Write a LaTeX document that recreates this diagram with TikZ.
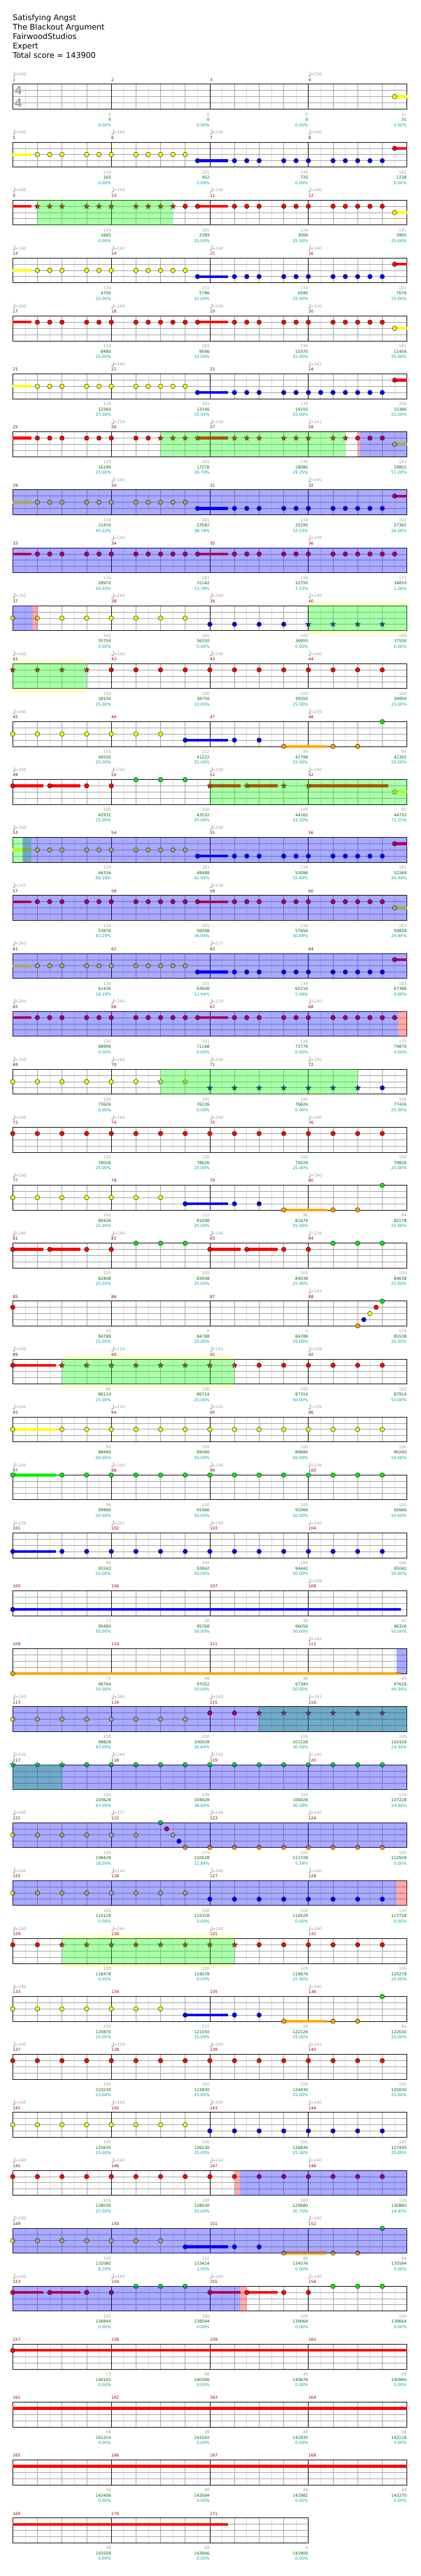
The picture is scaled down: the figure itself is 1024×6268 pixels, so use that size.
\documentclass[tikz,border=0pt]{standalone}
\usepackage{fontspec}
\setmainfont{DejaVu Sans}
\newfontfamily\sigfont{Liberation Sans}
\usetikzlibrary{shapes.geometric}
\definecolor{cG}{RGB}{0,240,0}
\definecolor{cR}{RGB}{255,0,0}
\definecolor{cY}{RGB}{255,255,0}
\definecolor{cB}{RGB}{0,0,255}
\definecolor{cO}{RGB}{255,165,0}
\definecolor{ovG}{RGB}{0,255,0}
\definecolor{paley}{RGB}{255,255,208}
\definecolor{gridL}{RGB}{220,220,220}
\definecolor{gridD}{RGB}{160,160,160}
\definecolor{mred}{RGB}{139,0,0}
\definecolor{numgray}{RGB}{160,160,160}
\definecolor{numgreen}{RGB}{0,100,0}
\definecolor{numteal}{RGB}{0,160,160}
\tikzset{
  rs/.style={yshift={-141*(#1-1)}},
  note/.style={circle,draw=black,line width=0.7pt,minimum size=11pt,inner sep=0pt},
  starnote/.style={star,star points=5,star point ratio=2.3,draw=black,line width=0.5pt,minimum size=14pt,inner sep=0pt},
  lab/.style={inner sep=0pt,font=\fontsize{9.8}{12}\selectfont,text height=7.2pt,text depth=0pt},
  mnum/.style={lab,anchor=west,text=mred},
  ngray/.style={lab,anchor=east,text=numgray},
  ngreen/.style={lab,anchor=east,text=numgreen},
  nteal/.style={lab,anchor=east,text=numteal},
  tnum/.style={lab,anchor=west,text=numgray},
  sig/.style={inner sep=0pt,font=\sigfont\bfseries\fontsize{30}{30}\selectfont,text=gridD},
  head/.style={anchor=base west,inner sep=0pt,font=\fontsize{19}{22}\selectfont},
  gl/.style={draw=gridL,line width=1pt},
  gd/.style={draw=gridD,line width=1pt}
}
\newcommand\lG{205}\newcommand\lR{220}\newcommand\lY{235}\newcommand\lB{250}\newcommand\lO{265}
\newcommand\grid[1]{%
  \pgfmathtruncatemacro\gn{8*#1}%
  \foreach \i in {1,3,...,\gn} \draw[gl] ({31+30*\i},205) -- ({31+30*\i},265.5);
  \foreach \i in {2,4,...,\gn} \draw[gd] ({31+30*\i},205) -- ({31+30*\i},265.5);
  \foreach \yy in {220,235,250} \draw[gd] (31,\yy) -- ({31+240*#1},\yy);
  \foreach \i in {1,...,#1} \draw[black,line width=1pt] ({31+240*\i},205) -- ({31+240*\i},265.5);
  \draw[black,line width=1.5pt] (31,205) rectangle ({31+240*#1},265.5);}
\newcommand\nt[3]{\node[note,fill=#3] at ({31+30*(#1)},#2) {};}
\newcommand\nts[3]{\foreach \k in {#1}{\nt{\k}{#2}{#3}}}
\newcommand\sts[3]{\foreach \k in {#1}{\node[starnote,fill=#3] at ({31+30*(\k)},#2) {};}}
\newcommand\su[4]{\fill[#4] ({31+30*(#1)},{#3-3.3}) rectangle ({31+30*(#2)},{#3+3.3});}
\newcommand\ov[3]{\fill[#3,fill opacity=0.333] ({31+30*(#1)},205) rectangle ({31+30*(#2)},265.5);}
\newcommand\py[2]{\fill[paley] ({31+30*(#1)},195) rectangle ({31+30*(#2)},205);
  \fill[paley] ({31+30*(#1)},265.5) rectangle ({31+30*(#2)},276);}
\newcommand\ms[5]{%
  \node[mnum] at ({31+240*(#1)},194) {#2};
  \node[ngray] at ({30.5+240*(#1+1)},278) {#3};
  \node[ngreen] at ({30.5+240*(#1+1)},291) {#4};
  \node[nteal] at ({30.5+240*(#1+1)},304) {#5\%};}
\newcommand\tp[2]{%
  \fill[numgray] ({31+240*(#1)+2.4},185) ellipse [x radius=2.4,y radius=1.8];
  \draw[numgray,line width=0.9pt] ({31+240*(#1)+4.5},185) -- ({31+240*(#1)+4.5},174.5);
  \node[tnum] at ({31+240*(#1)+5.8},181) {=#2};}
\newcommand\tps[4]{\tp{0}{#1}\tp{1}{#2}\tp{2}{#3}\tp{3}{#4}}
\newcommand\patA{%
  \su{0}{1.5}{\lY}{cY}
  \nts{2,3,4,6,7,8,10,11,12,13,14}{\lY}{cY}
  \su{15}{17.5}{\lB}{cB}\nt{15}{\lB}{cB}
  \nts{18,19,20,22,23,24,26,27,28,29,30}{\lB}{cB}
  \su{31}{32}{\lR}{cR}\nt{31}{\lR}{cR}}
\newcommand\patB{%
  \su{0}{1.5}{\lR}{cR}
  \nts{2,3,4,6,7,8,10,11,12,13,14}{\lR}{cR}
  \su{15}{17.5}{\lR}{cR}\nt{15}{\lR}{cR}
  \nts{18,19,20,22,23,24,26,27,28,29,30}{\lR}{cR}
  \su{31}{32}{\lY}{cY}\nt{31}{\lY}{cY}}
\newcommand\patR{%
  \su{0}{1.5}{\lR}{cR}
  \nts{2,3,4,6,7,8,10,11,12,13,14}{\lR}{cR}
  \su{15}{17.5}{\lR}{cR}\nt{15}{\lR}{cR}
  \nts{18,19,20,22,23,24,26,27,28,29,30,31}{\lR}{cR}}
\newcommand\patC{%
  \nts{0,2,4,6,8,10,12}{\lY}{cY}
  \su{14}{17.5}{\lB}{cB}\nt{14}{\lB}{cB}
  \nts{18,20}{\lB}{cB}
  \su{22}{25.5}{\lO}{cO}\nt{22}{\lO}{cO}
  \nts{26,28}{\lO}{cO}
  \nt{30}{\lG}{cG}}
\newcommand\patD{%
  \su{0}{2.5}{\lR}{cR}\nt{0}{\lR}{cR}
  \su{3}{5.5}{\lR}{cR}\nt{3}{\lR}{cR}
  \nts{6,8}{\lR}{cR}
  \nts{10,12,14}{\lG}{cG}
  \su{16}{18.5}{\lR}{cR}\nt{16}{\lR}{cR}
  \su{19}{21.5}{\lR}{cR}\nt{19}{\lR}{cR}
  \nts{22,24}{\lR}{cR}
  \nts{26,28,30}{\lG}{cG}}
\begin{document}
\begin{tikzpicture}[x=1pt,y=-1pt]
\useasboundingbox (0,0) rectangle (1024,6268);
\fill[white] (0,0) rectangle (1024,6268);
\node[head] at (31,49.3) {Satisfying Angst};
\node[head] at (31,72.3) {The Blackout Argument};
\node[head] at (31,95.3) {FairwoodStudios};
\node[head] at (31,118.3) {Expert};
\node[head] at (31,141.3) {Total score = 143900};
% Row 1
\begin{scope}[rs=1]
\grid{4}
\node[sig] at (44.5,220.5) {4}; \node[sig] at (44.5,250.5) {4};
\su{31}{32}{\lY}{cY}\nt{31}{\lY}{cY}
\tp{0}{240}\tp{3}{236}
\ms{0}{1}{0}{0}{0.00}\ms{1}{2}{0}{0}{0.00}\ms{2}{3}{0}{0}{0.00}\ms{3}{4}{31}{31}{0.00}
\end{scope}
% Row 2
\begin{scope}[rs=2]
\grid{4}\patA
\tps{240}{240}{240}{240}
\ms{0}{5}{134}{165}{0.00}\ms{1}{6}{181}{452}{0.00}\ms{2}{7}{134}{720}{0.00}\ms{3}{8}{181}{1238}{0.00}
\end{scope}
% Row 3
\begin{scope}[rs=3]
\grid{4}
\su{0}{1.5}{\lR}{cR}
\sts{2,3,4,6,7,8,10,11,12,13}{\lR}{cR}
\nt{14}{\lR}{cR}
\su{15}{17.5}{\lR}{cR}\nt{15}{\lR}{cR}
\nts{18,19,20,22,23,24,26,27,28,29,30}{\lR}{cR}
\su{31}{32}{\lY}{cY}\nt{31}{\lY}{cY}
\ov{2}{13}{ovG}
\tps{240}{240}{240}{240}
\ms{0}{9}{134}{1665}{0.00}\ms{1}{10}{181}{2389}{25.00}\ms{2}{11}{134}{3000}{25.00}\ms{3}{12}{181}{3905}{25.00}
\end{scope}
% Row 4
\begin{scope}[rs=4]
\grid{4}\patA
\tps{240}{240}{240}{240}
\ms{0}{13}{134}{4700}{25.00}\ms{1}{14}{181}{5786}{25.00}\ms{2}{15}{134}{6590}{25.00}\ms{3}{16}{181}{7676}{25.00}
\end{scope}
% Row 5
\begin{scope}[rs=5]
\grid{4}\patB
\tps{240}{240}{240}{240}
\ms{0}{17}{134}{8480}{25.00}\ms{1}{18}{181}{9566}{25.00}\ms{2}{19}{134}{10370}{25.00}\ms{3}{20}{181}{11456}{25.00}
\end{scope}
% Row 6
\begin{scope}[rs=6]
\grid{4}
\su{0}{1.5}{\lY}{cY}
\nts{2,3,4,6,7,8,10,11,12,13,14}{\lY}{cY}
\su{15}{17.5}{\lB}{cB}\nt{15}{\lB}{cB}
\nts{18,19,20,22,23,24,25,26,27,28,29,30}{\lB}{cB}
\su{31}{32}{\lR}{cR}\nt{31}{\lR}{cR}
\tp{1}{240}\tp{3}{241}
\ms{0}{21}{134}{12260}{25.00}\ms{1}{22}{181}{13346}{25.00}\ms{2}{23}{134}{14150}{25.00}\ms{3}{24}{206}{15386}{25.00}
\end{scope}
% Row 7
\begin{scope}[rs=7]
\grid{4}
\su{0}{1.5}{\lR}{cR}
\nts{2,3,4,6,7,8,10,11}{\lR}{cR}
\su{15}{17.5}{\lR}{cR}
\sts{12,13,14,15,18,19,20,22,23,24,26,27}{\lR}{cR}
\nts{28,29,30}{\lR}{cR}
\su{31}{32}{\lY}{cY}\nt{31}{\lY}{cY}
\ov{12}{27}{ovG}
\ov{28.05}{28.18}{cR}
\ov{28.18}{32}{cB}
\tp{1}{239}\tp{2}{239}\tp{3}{241}
\ms{0}{25}{134}{16190}{25.00}\ms{1}{26}{181}{17276}{26.70}\ms{2}{27}{134}{18080}{29.25}\ms{3}{28}{181}{19802}{51.28}
\end{scope}
% Row 8
\begin{scope}[rs=8]
\grid{4}\patA
\ov{0}{32}{cB}
\tp{1}{240}\tp{3}{240}
\ms{0}{29}{134}{21410}{45.03}\ms{1}{30}{181}{23582}{38.78}\ms{2}{31}{134}{25190}{32.53}\ms{3}{32}{181}{27362}{26.28}
\end{scope}
% Row 9
\begin{scope}[rs=9]
\grid{4}\patR
\ov{0}{32}{cB}
\tp{1}{240}\tp{3}{239}
\ms{0}{33}{134}{28970}{20.03}\ms{1}{34}{181}{31142}{13.78}\ms{2}{35}{134}{32750}{7.53}\ms{3}{36}{175}{34850}{1.28}
\end{scope}
% Row 10
\begin{scope}[rs=10]
\py{24}{32}
\grid{4}
\nts{0,2,4,6,8,10,12,14}{\lY}{cY}
\nts{16,18,20,22}{\lB}{cB}
\sts{24,26,28,30}{\lB}{cB}
\ov{0}{1.6}{cB}
\ov{1.6}{2.02}{cR}
\ov{24}{32}{ovG}
\tps{242}{240}{240}{240}
\ms{0}{37}{100}{35750}{0.00}\ms{1}{38}{100}{36350}{0.00}\ms{2}{39}{100}{36950}{0.00}\ms{3}{40}{100}{37550}{0.00}
\end{scope}
% Row 11
\begin{scope}[rs=11]
\py{0}{6}
\grid{4}
\sts{0,2,4,6}{\lR}{cR}
\nts{8,10,12,14,16,18,20,22,24,26,28,30}{\lR}{cR}
\ov{0}{6}{ovG}
\tps{240}{240}{240}{240}
\ms{0}{41}{100}{38150}{25.00}\ms{1}{42}{100}{38750}{25.00}\ms{2}{43}{100}{39350}{25.00}\ms{3}{44}{100}{39950}{25.00}
\end{scope}
% Row 12
\begin{scope}[rs=12]
\grid{4}\patC
\tp{0}{240}\tp{3}{239}
\ms{0}{45}{100}{40550}{25.00}\ms{1}{46}{112}{41222}{25.00}\ms{2}{47}{96}{41798}{25.00}\ms{3}{48}{84}{42302}{25.00}
\end{scope}
% Row 13
\begin{scope}[rs=13]
\grid{4}
\su{0}{2.5}{\lR}{cR}\nt{0}{\lR}{cR}
\su{3}{5.5}{\lR}{cR}\nt{3}{\lR}{cR}
\nts{6,8}{\lR}{cR}
\nts{10,12,14}{\lG}{cG}
\su{16}{18.5}{\lR}{cR}\su{19}{21.5}{\lR}{cR}\su{24}{30.5}{\lR}{cR}
\sts{16,19,22,24}{\lR}{cR}
\su{31}{32}{\lY}{cY}\sts{31}{\lY}{cY}
\ov{16}{32}{ovG}
\tps{240}{240}{240}{240}
\ms{0}{49}{105}{42932}{25.00}\ms{1}{50}{100}{43532}{25.00}\ms{2}{51}{105}{44162}{33.50}\ms{3}{52}{95}{44732}{71.25}
\end{scope}
% Row 14
\begin{scope}[rs=14]
\grid{4}\patA
\ov{0}{1.5}{ovG}
\ov{0.8}{32}{cB}
\tp{0}{240}\tp{2}{240}
\ms{0}{53}{134}{46316}{68.19}\ms{1}{54}{181}{48488}{61.94}\ms{2}{55}{134}{50096}{55.69}\ms{3}{56}{181}{52268}{49.44}
\end{scope}
% Row 15
\begin{scope}[rs=15]
\grid{4}\patB
\ov{0}{32}{cB}
\tp{0}{241}\tp{2}{238}
\ms{0}{57}{134}{53876}{43.19}\ms{1}{58}{181}{56048}{36.94}\ms{2}{59}{134}{57656}{30.69}\ms{3}{60}{181}{59828}{24.44}
\end{scope}
% Row 16
\begin{scope}[rs=16]
\grid{4}\patA
\ov{0}{32}{cB}
\tp{0}{243}\tp{2}{237}
\ms{0}{61}{134}{61436}{18.19}\ms{1}{62}{181}{63608}{11.94}\ms{2}{63}{134}{65216}{5.69}\ms{3}{64}{181}{67388}{0.00}
\end{scope}
% Row 17
\begin{scope}[rs=17]
\grid{4}\patR
\ov{0}{31.33}{cB}
\ov{31.33}{32}{cR}
\tps{244}{240}{239}{240}
\ms{0}{65}{134}{68996}{0.00}\ms{1}{66}{181}{71168}{0.00}\ms{2}{67}{134}{72776}{0.00}\ms{3}{68}{175}{74876}{0.00}
\end{scope}
% Row 18
\begin{scope}[rs=18]
\grid{4}
\nts{0,2,4,6,8,10}{\lY}{cY}
\sts{12,14}{\lY}{cY}
\sts{16,18,20,22,24,26,28}{\lB}{cB}
\nt{30}{\lB}{cB}
\ov{12}{28}{ovG}
\tps{240}{240}{240}{240}
\ms{0}{69}{100}{75626}{0.00}\ms{1}{70}{100}{76226}{0.00}\ms{2}{71}{100}{76826}{0.00}\ms{3}{72}{100}{77426}{25.00}
\end{scope}
% Row 19
\begin{scope}[rs=19]
\grid{4}
\nts{0,2,...,30}{\lR}{cR}
\tps{240}{240}{240}{240}
\ms{0}{73}{100}{78026}{25.00}\ms{1}{74}{100}{78626}{25.00}\ms{2}{75}{100}{79226}{25.00}\ms{3}{76}{100}{79826}{25.00}
\end{scope}
% Row 20
\begin{scope}[rs=20]
\grid{4}\patC
\tp{0}{240}\tp{3}{240}
\ms{0}{77}{100}{80426}{25.00}\ms{1}{78}{112}{81098}{25.00}\ms{2}{79}{96}{81674}{25.00}\ms{3}{80}{84}{82178}{25.00}
\end{scope}
% Row 21
\begin{scope}[rs=21]
\grid{4}\patD
\tps{240}{240}{240}{239}
\ms{0}{81}{105}{82808}{25.00}\ms{1}{82}{100}{83408}{25.00}\ms{2}{83}{105}{84038}{25.00}\ms{3}{84}{100}{84638}{25.00}
\end{scope}
% Row 22
\begin{scope}[rs=22]
\grid{4}
\nt{0}{\lR}{cR}
\nt{28}{\lO}{cO}\nt{28.5}{\lB}{cB}\nt{29}{\lY}{cY}\nt{29.5}{\lR}{cR}\nt{30}{\lG}{cG}
\tp{3}{243}
\ms{0}{85}{25}{84788}{25.00}\ms{1}{86}{0}{84788}{25.00}\ms{2}{87}{0}{84788}{25.00}\ms{3}{88}{125}{85538}{25.00}
\end{scope}
% Row 23
\begin{scope}[rs=23]
\py{4}{18}
\grid{4}
\su{0}{3.5}{\lR}{cR}\nt{0}{\lR}{cR}
\sts{4,6,8,10,12,14,16,18}{\lR}{cR}
\nts{20,22,24,26,28,30}{\lR}{cR}
\ov{4}{18}{ovG}
\tps{240}{239}{241}{239}
\ms{0}{89}{96}{86114}{25.00}\ms{1}{90}{100}{86714}{25.00}\ms{2}{91}{100}{87314}{50.00}\ms{3}{92}{100}{87914}{50.00}
\end{scope}
% Row 24
\begin{scope}[rs=24]
\grid{4}
\su{0}{3.5}{\lY}{cY}\nt{0}{\lY}{cY}
\nts{4,6,...,30}{\lY}{cY}
\tps{241}{239}{241}{239}
\ms{0}{93}{96}{88490}{50.00}\ms{1}{94}{100}{89090}{50.00}\ms{2}{95}{100}{89690}{50.00}\ms{3}{96}{100}{90290}{50.00}
\end{scope}
% Row 25
\begin{scope}[rs=25]
\grid{4}
\su{0}{3.5}{\lG}{cG}\nt{0}{\lG}{cG}
\nts{4,6,...,30}{\lG}{cG}
\tps{240}{240}{240}{239}
\ms{0}{97}{96}{90866}{50.00}\ms{1}{98}{100}{91466}{50.00}\ms{2}{99}{100}{92066}{50.00}\ms{3}{100}{100}{92666}{50.00}
\end{scope}
% Row 26
\begin{scope}[rs=26]
\grid{4}
\su{0}{3.5}{\lB}{cB}\nt{0}{\lB}{cB}
\nts{4,6,...,30}{\lB}{cB}
\tps{239}{241}{240}{240}
\ms{0}{101}{96}{93242}{50.00}\ms{1}{102}{100}{93842}{50.00}\ms{2}{103}{100}{94442}{50.00}\ms{3}{104}{100}{95042}{50.00}
\end{scope}
% Row 27
\begin{scope}[rs=27]
\grid{4}
\su{0}{31.5}{\lB}{cB}\nt{0}{\lB}{cB}
\tp{3}{239}
\ms{0}{105}{73}{95480}{50.00}\ms{1}{106}{48}{95768}{50.00}\ms{2}{107}{48}{96056}{50.00}\ms{3}{108}{45}{96326}{50.00}
\end{scope}
% Row 28
\begin{scope}[rs=28]
\grid{4}
\su{0}{31.5}{\lO}{cO}\nt{0}{\lO}{cO}
\ov{31.17}{32}{cB}
\tp{3}{242}
\ms{0}{109}{73}{96764}{50.00}\ms{1}{110}{48}{97052}{50.00}\ms{2}{111}{48}{97340}{50.00}\ms{3}{112}{45}{97628}{49.34}
\end{scope}
% Row 29
\begin{scope}[rs=29]
\grid{4}
\nts{0,2,4,6,8,10,12,14}{\lY}{cY}
\nts{16,18}{\lR}{cR}
\sts{20,22,24,26,28,30}{\lR}{cR}
\ov{20}{32}{ovG}
\ov{0}{32}{cB}
\tps{240}{240}{240}{241}
\ms{0}{113}{100}{98828}{43.09}\ms{1}{114}{100}{100028}{36.84}\ms{2}{115}{100}{101228}{30.59}\ms{3}{116}{100}{102428}{24.34}
\end{scope}
% Row 30
\begin{scope}[rs=30]
\grid{4}
\sts{0,2,4}{\lG}{cG}
\nts{6,8,...,30}{\lG}{cG}
\ov{0}{4}{ovG}
\ov{0}{32}{cB}
\tps{240}{240}{240}{240}
\ms{0}{117}{100}{103628}{43.09}\ms{1}{118}{100}{104828}{36.84}\ms{2}{119}{100}{106028}{30.59}\ms{3}{120}{100}{107228}{24.34}
\end{scope}
% Row 31
\begin{scope}[rs=31]
\grid{4}
\nts{0,2,4,6,8,10}{\lY}{cY}
\nt{12}{\lG}{cG}\nt{12.5}{\lR}{cR}\nt{13}{\lY}{cY}\nt{13.5}{\lB}{cB}\nt{14}{\lO}{cO}
\nts{16,18,...,30}{\lO}{cO}
\ov{0}{32}{cB}
\tps{240}{237}{244}{240}
\ms{0}{121}{100}{108428}{18.09}\ms{1}{122}{175}{110528}{11.84}\ms{2}{123}{100}{111728}{5.59}\ms{3}{124}{100}{112928}{0.00}
\end{scope}
% Row 32
\begin{scope}[rs=32]
\grid{4}
\nts{0,2,...,14}{\lY}{cY}
\nts{16,18,...,30}{\lB}{cB}
\ov{0}{31.17}{cB}
\ov{31.17}{32}{cR}
\tps{240}{240}{240}{240}
\ms{0}{125}{100}{114128}{0.00}\ms{1}{126}{100}{115328}{0.00}\ms{2}{127}{100}{116528}{0.00}\ms{3}{128}{100}{117728}{0.00}
\end{scope}
% Row 33
\begin{scope}[rs=33]
\py{4}{18}
\grid{4}
\nts{0,2}{\lR}{cR}
\sts{4,6,8,10,12,14,16,18}{\lR}{cR}
\nts{20,22,24,26,28,30}{\lR}{cR}
\ov{4}{18}{ovG}
\tps{240}{240}{240}{240}
\ms{0}{129}{100}{118478}{0.00}\ms{1}{130}{100}{119078}{0.00}\ms{2}{131}{100}{119678}{25.00}\ms{3}{132}{100}{120278}{25.00}
\end{scope}
% Row 34
\begin{scope}[rs=34]
\grid{4}\patC
\tp{0}{240}\tp{3}{240}
\ms{0}{133}{100}{120878}{25.00}\ms{1}{134}{112}{121550}{25.00}\ms{2}{135}{96}{122126}{25.00}\ms{3}{136}{84}{122630}{25.00}
\end{scope}
% Row 35
\begin{scope}[rs=35]
\grid{4}
\nts{0,2,...,30}{\lR}{cR}
\tps{240}{239}{240}{241}
\ms{0}{137}{100}{123230}{25.00}\ms{1}{138}{100}{123830}{25.00}\ms{2}{139}{100}{124430}{25.00}\ms{3}{140}{100}{125030}{25.00}
\end{scope}
% Row 36
\begin{scope}[rs=36]
\grid{4}
\nts{0,2,...,14}{\lY}{cY}
\nts{16,18,...,30}{\lB}{cB}
\tps{240}{240}{240}{240}
\ms{0}{141}{100}{125630}{25.00}\ms{1}{142}{100}{126230}{25.00}\ms{2}{143}{100}{126830}{25.00}\ms{3}{144}{100}{127430}{25.00}
\end{scope}
% Row 37
\begin{scope}[rs=37]
\grid{4}
\nts{0,2,...,30}{\lR}{cR}
\ov{18.03}{18.47}{cR}
\ov{18.47}{32}{cB}
\tps{240}{240}{240}{240}
\ms{0}{145}{100}{128030}{25.00}\ms{1}{146}{100}{128630}{25.00}\ms{2}{147}{100}{129680}{20.70}\ms{3}{148}{100}{130880}{14.45}
\end{scope}
% Row 38
\begin{scope}[rs=38]
\grid{4}\patC
\ov{0}{32}{cB}
\tp{0}{240}\tp{3}{240}
\ms{0}{149}{100}{132080}{8.20}\ms{1}{150}{112}{133424}{1.95}\ms{2}{151}{96}{134576}{0.00}\ms{3}{152}{84}{135584}{0.00}
\end{scope}
% Row 39
\begin{scope}[rs=39]
\grid{4}\patD
\ov{0}{18.47}{cB}
\ov{18.47}{19}{cR}
\tps{240}{240}{240}{240}
\ms{0}{153}{105}{136844}{0.00}\ms{1}{154}{100}{138044}{0.00}\ms{2}{155}{105}{139064}{0.00}\ms{3}{156}{100}{139664}{0.00}
\end{scope}
% Row 40
\begin{scope}[rs=40]
\grid{4}
\su{0}{32}{\lR}{cR}\nt{0}{\lR}{cR}
\ms{0}{157}{73}{140102}{0.00}\ms{1}{158}{48}{140390}{0.00}\ms{2}{159}{48}{140678}{0.00}\ms{3}{160}{48}{140966}{0.00}
\end{scope}
% Row 41
\begin{scope}[rs=41]
\grid{4}
\su{0}{32}{\lR}{cR}
\ms{0}{161}{48}{141254}{0.00}\ms{1}{162}{48}{141542}{0.00}\ms{2}{163}{48}{141830}{0.00}\ms{3}{164}{48}{142118}{0.00}
\end{scope}
% Row 42
\begin{scope}[rs=42]
\grid{4}
\su{0}{32}{\lR}{cR}
\ms{0}{165}{48}{142406}{0.00}\ms{1}{166}{48}{142694}{0.00}\ms{2}{167}{48}{142982}{0.00}\ms{3}{168}{48}{143270}{0.00}
\end{scope}
% Row 43
\begin{scope}[rs=43]
\grid{3}
\su{0}{17.5}{\lR}{cR}
\ms{0}{169}{48}{143558}{0.00}\ms{1}{170}{48}{143846}{0.00}\ms{2}{171}{9}{143900}{0.00}
\end{scope}
\end{tikzpicture}
\end{document}
